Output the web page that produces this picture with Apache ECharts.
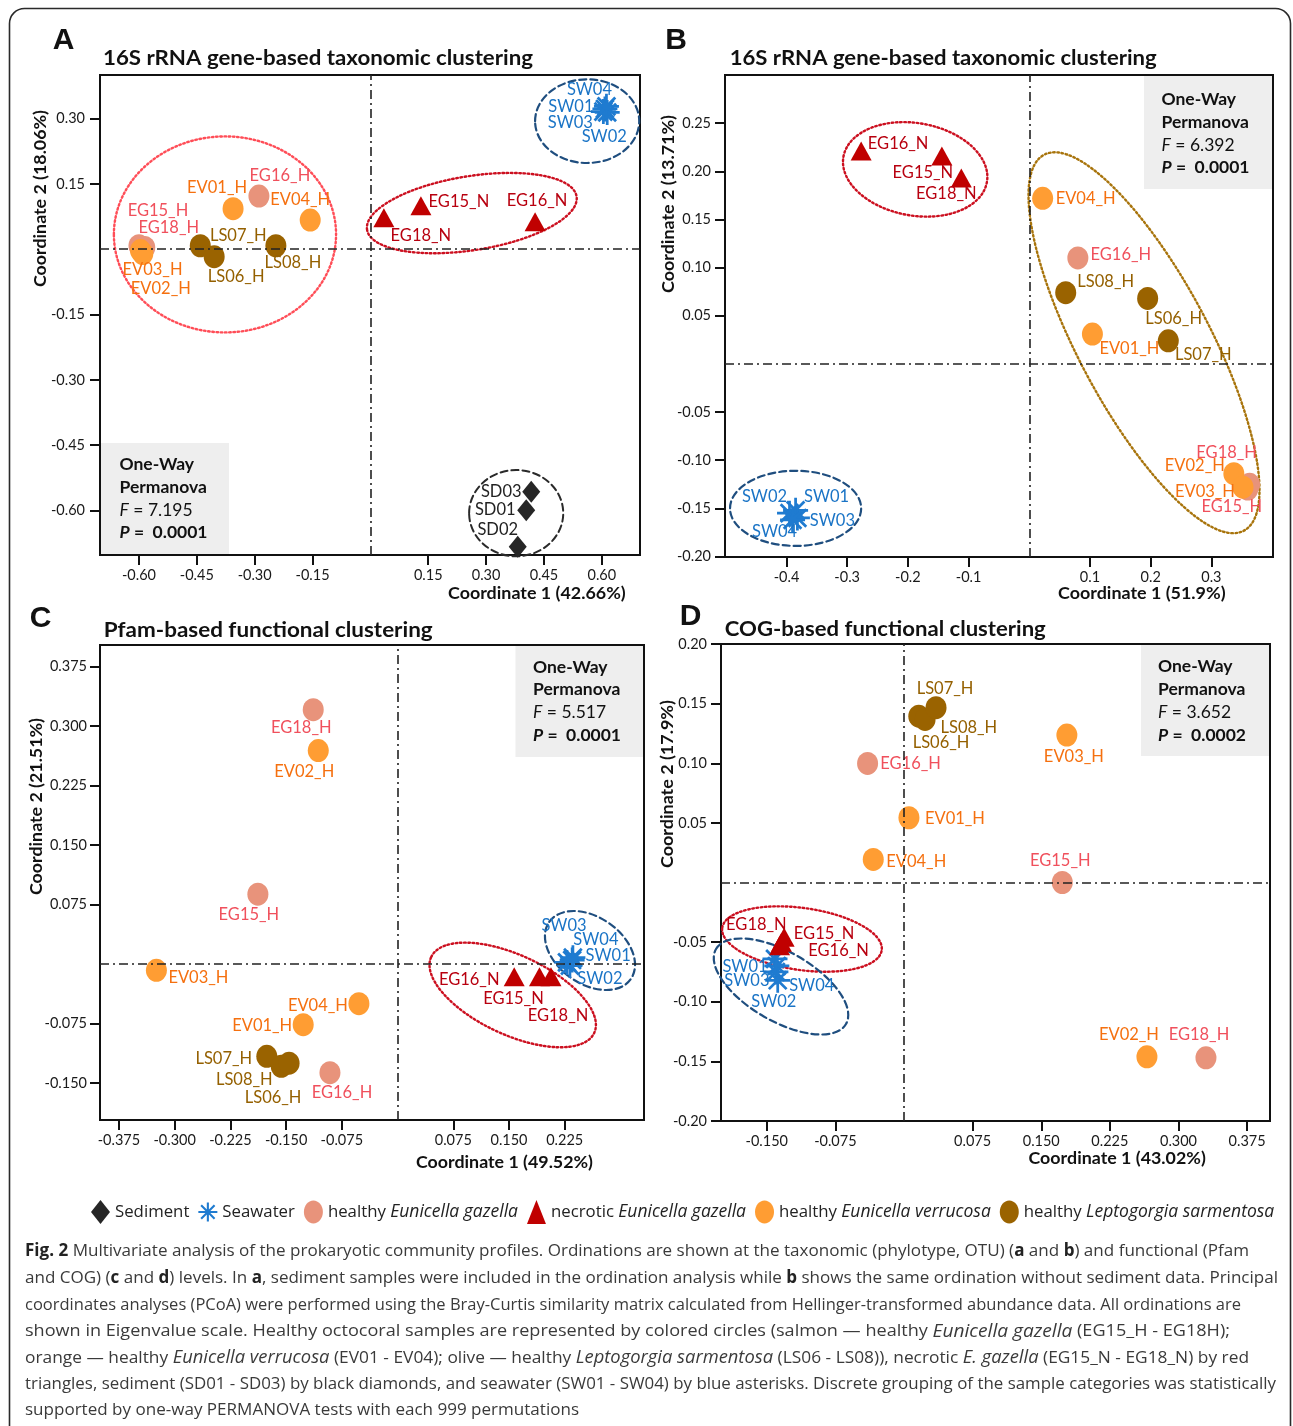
<!DOCTYPE html>
<html>
<head>
<meta charset="utf-8">
<title>Fig. 2 PCoA ordinations</title>
<script src="https://cdn.jsdelivr.net/npm/echarts@6.0.0/dist/echarts.min.js"></script>
<style>
  html, body { margin: 0; padding: 0; background: #fff; }
  #chart { width: 1293px; height: 1426px; }
</style>
</head>
<body>
<div id="chart"></div>
<script>
// sample coordinates: [name, coordinate 1, coordinate 2]
// A - 16S rRNA, with sediment
var aSediment = [["SD01", 0.404, -0.599], ["SD02", 0.382, -0.683], ["SD03", 0.417, -0.557]];
var aSeawater = [["SW01", 0.608, 0.322], ["SW02", 0.614, 0.314], ["SW03", 0.604, 0.316], ["SW04", 0.612, 0.328]];
var aGazellaH = [["EG15_H", -0.600, 0.008], ["EG16_H", -0.289, 0.122], ["EG18_H", -0.585, 0.004]];
var aGazellaN = [["EG15_N", 0.131, 0.100], ["EG16_N", 0.427, 0.063], ["EG18_N", 0.035, 0.072]];
var aVerrucosa = [["EV01_H", -0.356, 0.093], ["EV02_H", -0.590, -0.010], ["EV03_H", -0.596, -0.003], ["EV04_H", -0.156, 0.067]];
var aSarmentosa = [["LS07_H", -0.441, 0.008], ["LS06_H", -0.405, -0.017], ["LS08_H", -0.245, 0.008]];

// B - 16S rRNA, without sediment
var bSeawater = [["SW01", -0.385, -0.152], ["SW02", -0.395, -0.155], ["SW03", -0.382, -0.160], ["SW04", -0.390, -0.162]];
var bGazellaH = [["EG15_H", 0.360, -0.130], ["EG16_H", 0.080, 0.110], ["EG18_H", 0.363, -0.125]];
var bGazellaN = [["EG15_N", -0.144, 0.216], ["EG16_N", -0.277, 0.221], ["EG18_N", -0.112, 0.193]];
var bVerrucosa = [["EV01_H", 0.104, 0.031], ["EV02_H", 0.337, -0.114], ["EV03_H", 0.352, -0.128], ["EV04_H", 0.022, 0.172]];
var bSarmentosa = [["LS06_H", 0.195, 0.068], ["LS07_H", 0.229, 0.024], ["LS08_H", 0.060, 0.074]];

// C - Pfam
var cSeawater = [["SW01", 0.235, 0.005], ["SW02", 0.232, -0.002], ["SW03", 0.228, 0.002], ["SW04", 0.236, 0.008]];
var cGazellaH = [["EG15_H", -0.188, 0.088], ["EG16_H", -0.091, -0.137], ["EG18_H", -0.1135, 0.3205]];
var cGazellaN = [["EG16_N", 0.157, -0.016], ["EG15_N", 0.191, -0.016], ["EG18_N", 0.2065, -0.016]];
var cVerrucosa = [["EV01_H", -0.127, -0.0765], ["EV02_H", -0.1067, 0.269], ["EV03_H", -0.3246, -0.008], ["EV04_H", -0.052, -0.050]];
var cSarmentosa = [["LS07_H", -0.176, -0.1164], ["LS08_H", -0.1565, -0.129], ["LS06_H", -0.146, -0.125]];

// D - COG
var dSeawater = [["SW01", -0.141, -0.064], ["SW02", -0.139, -0.070], ["SW03", -0.140, -0.075], ["SW04", -0.138, -0.082]];
var dGazellaH = [["EG15_H", 0.173, 0.000], ["EG16_H", -0.0398, 0.0998], ["EG18_H", 0.330, -0.147]];
var dGazellaN = [["EG16_N", -0.136, -0.053], ["EG18_N", -0.134, -0.050], ["EG15_N", -0.131, -0.046]];
var dVerrucosa = [["EV01_H", 0.0054, 0.0543], ["EV02_H", 0.2655, -0.1462], ["EV03_H", 0.178, 0.1236], ["EV04_H", -0.0336, 0.0193]];
var dSarmentosa = [["LS08_H", 0.0162, 0.1395], ["LS06_H", 0.023, 0.1367], ["LS07_H", 0.035, 0.1466]];

// grouping ellipses: [centre x, centre y, radius x, radius y, tilt in degrees]
var aEllipses = [[-0.377, 0.034, 0.288, 0.225, 0], [0.263, 0.083, 0.275, 0.085, 9], [0.562, 0.294, 0.135, 0.096, 0], [0.378, -0.606, 0.122, 0.099, 0]];
var aEllipseKinds = ["healthy", "necrotic", "seawater", "sediment"];
var bEllipses = [[-0.188, 0.202, 0.120, 0.048, -10], [0.189, 0.022, 0.108, 0.221, 28], [-0.385, -0.150, 0.108, 0.039, 0]];
var bEllipseKinds = ["necrotic", "host", "seawater"];
var cEllipses = [[0.155, -0.039, 0.121, 0.050, -25], [0.259, 0.017, 0.067, 0.042, -35]];
var cEllipseKinds = ["necrotic", "seawater"];
var dEllipses = [[-0.1115, -0.0474, 0.088, 0.026, -8], [-0.1344, -0.0872, 0.082, 0.029, -30]];
var dEllipseKinds = ["necrotic", "seawater"];

// tick labels
var aXTicks = [-0.6, -0.45, -0.3, -0.15, 0.15, 0.3, 0.45, 0.6];
var aYTicks = [-0.6, -0.45, -0.3, -0.15, 0.15, 0.3];
var bXTicks = [-0.4, -0.3, -0.2, -0.1, 0.1, 0.2, 0.3];
var bYTicks = [-0.2, -0.15, -0.1, -0.05, 0.05, 0.1, 0.15, 0.2, 0.25];
var cXTicks = [-0.375, -0.3, -0.225, -0.15, -0.075, 0.075, 0.15, 0.225];
var cYTicks = [-0.15, -0.075, 0.075, 0.15, 0.225, 0.3, 0.375];
var dXTicks = [-0.15, -0.075, 0.075, 0.15, 0.225, 0.3, 0.375];
var dYTicks = [-0.2, -0.15, -0.1, -0.05, 0.05, 0.1, 0.15, 0.2];

// PERMANOVA results
var permanovaF = ["7.195", "6.392", "5.517", "3.652"];
var permanovaP = ["0.0001", "0.0001", "0.0001", "0.0002"];

var groupNames = ["Sediment", "Seawater", "healthy Eunicella gazella", "necrotic Eunicella gazella",
  "healthy Eunicella verrucosa", "healthy Leptogorgia sarmentosa"];

// ---- styling ----
var asterisk = (function () {
  var d = "";
  for (var k = 0; k < 4; k++) {
    var t = k * Math.PI / 4, c = Math.cos(t), s = Math.sin(t), L = 50, W = 5.5;
    var pts = [[L, W], [L, -W], [-L, -W], [-L, W]].map(function (p) {
      return (50 + p[0] * c - p[1] * s).toFixed(2) + " " + (50 + p[0] * s + p[1] * c).toFixed(2);
    });
    d += "M" + pts.join(" L") + " Z ";
  }
  return "path://" + d;
})();
// tall oval for the legend circles
var oval = "path://M10 0 C15.5 0 20 5.4 20 12 C20 18.6 15.5 24 10 24 C4.5 24 0 18.6 0 12 C0 5.4 4.5 0 10 0 Z";

var groupStyles = [
  { symbol: "diamond", size: [18, 22], color: "#262626", label: "#222222", icon: "diamond" },
  { symbol: asterisk, size: [25, 25], color: "#1f7bd0", label: "#1a74c6", icon: asterisk },
  { symbol: "circle", size: [21, 23], color: "#e8937b", label: "#f0505c", icon: oval },
  { symbol: "triangle", size: [21, 19], color: "#c00000", label: "#b8000f", icon: "triangle" },
  { symbol: "circle", size: [21, 23], color: "#ff9d33", label: "#f5700f", icon: oval },
  { symbol: "circle", size: [21, 23], color: "#9a6300", label: "#946000", icon: oval }
];

var ellipseStyles = {
  healthy: { stroke: "#ff4d57", lineDash: [1.6, 2.6], lineWidth: 2.4 },
  necrotic: { stroke: "#cc1020", lineDash: [1.6, 2.6], lineWidth: 2.4 },
  host: { stroke: "#a8740c", lineDash: [1.6, 2.6], lineWidth: 2.4 },
  seawater: { stroke: "#1f4e7f", lineDash: [7, 4], lineWidth: 2.2 },
  sediment: { stroke: "#2a2a2a", lineDash: [7, 4], lineWidth: 2 }
};

var labelOffsets = {
  A: { SD01: [-31, 0], SD02: [-20, -17], SD03: [-30, 0], SW01: [-34, -2], SW02: [-3, 24], SW03: [-33, 11], SW04: [-17, -17],
    EG15_H: [19, -35], EG16_H: [21, -20], EG18_H: [24, -20], EG15_N: [38, -4], EG16_N: [2, -21], EG18_N: [37, 18],
    EV01_H: [-16, -21], EV02_H: [18, 35], EV03_H: [12, 19], EV04_H: [-10, -20], LS06_H: [22, 20], LS07_H: [38, -10], LS08_H: [17, 17] },
  B: { SW01: [31, -14], SW02: [-25, -17], SW03: [35, 3], SW04: [-18, 12], EG15_H: [-16, 18], EG16_H: [43, -3], EG18_H: [-23, -32],
    EG15_N: [-19, 17], EG16_N: [37, -7], EG18_N: [-15, 16], EV01_H: [37, 15], EV02_H: [-39, -8], EV03_H: [-38, 4], EV04_H: [43, 0],
    LS06_H: [26, 20], LS07_H: [35, 14], LS08_H: [40, -11] },
  C: { SW01: [36, -4], SW02: [30, 13], SW03: [-3, -37], SW04: [23, -18], EG15_H: [-9, 21], EG16_H: [12, 20], EG18_H: [-12, 18],
    EG15_N: [-26, 22], EG16_N: [-45, 3], EG18_N: [7, 39], EV01_H: [-41, 1], EV02_H: [-14, 21], EV03_H: [42, 7], EV04_H: [-41, 2],
    LS06_H: [-16, 34], LS07_H: [-43, 2], LS08_H: [-37, 13] },
  D: { SW01: [-30, 8], SW02: [-3, 36], SW03: [-29, 9], SW04: [34, 5], EG15_H: [-2, -22], EG16_H: [43, 0], EG18_H: [-7, -23],
    EG15_N: [40, -4], EG16_N: [59, 5], EG18_N: [-25, -17], EV01_H: [46, 1], EV02_H: [-18, -22], EV03_H: [7, 22], EV04_H: [43, 2],
    LS06_H: [16, 23], LS07_H: [9, -19], LS08_H: [50, 12] }
};

var panels = [
  { id: "A", grid: [100, 75, 540, 480], x: [-0.701, 0.699], y: [-0.702, 0.400], xTicks: aXTicks, yTicks: aYTicks, xDec: 2, yDec: 2, yMargin: 15,
    groups: [aSediment, aSeawater, aGazellaH, aGazellaN, aVerrucosa, aSarmentosa], ellipses: aEllipses, kinds: aEllipseKinds },
  { id: "B", grid: [725, 75, 548, 482], x: [-0.5013, 0.4015], y: [-0.2005, 0.3], xTicks: bXTicks, yTicks: bYTicks, xDec: 1, yDec: 2, yMargin: 14,
    groups: [null, bSeawater, bGazellaH, bGazellaN, bVerrucosa, bSarmentosa], ellipses: bEllipses, kinds: bEllipseKinds },
  { id: "C", grid: [100, 645, 544, 475], x: [-0.4005, 0.3317], y: [-0.1966, 0.402], xTicks: cXTicks, yTicks: cYTicks, xDec: 3, yDec: 3, yMargin: 13,
    groups: [null, cSeawater, cGazellaH, cGazellaN, cVerrucosa, cSarmentosa], ellipses: cEllipses, kinds: cEllipseKinds },
  { id: "D", grid: [721, 644, 549, 477], x: [-0.2, 0.4], y: [-0.2, 0.2], xTicks: dXTicks, yTicks: dYTicks, xDec: 3, yDec: 2, yMargin: 14,
    groups: [null, dSeawater, dGazellaH, dGazellaN, dVerrucosa, dSarmentosa], ellipses: dEllipses, kinds: dEllipseKinds }
];

// ---- text helpers (width fitting with canvas measureText) ----
var ctx2d = document.createElement("canvas").getContext("2d");
function measure(str, base, rich) {
  var w = 0, re = /\{(\w+)\|([^}]*)\}/g, last = 0, m;
  function add(s, st) {
    if (!s) return;
    ctx2d.font = (st.fontStyle || "normal") + " " + (st.fontWeight || "normal") + " " + st.fontSize + "px \"" + st.fontFamily + "\"";
    w += ctx2d.measureText(s).width;
  }
  while ((m = re.exec(str))) {
    add(str.slice(last, m.index), base);
    add(m[2], rich[m[1]]);
    last = re.lastIndex;
  }
  add(str.slice(last), base);
  return w;
}
function txt(o) {
  var base = { fontFamily: o.family || "Lato", fontSize: o.size, fontWeight: o.weight || "normal", fontStyle: o.italic ? "italic" : "normal" };
  var rich = {};
  Object.keys(o.rich || {}).forEach(function (k) {
    rich[k] = Object.assign({}, base, { fill: o.color || "#111" }, o.rich[k]);
  });
  var sx = o.scale || (o.width ? o.width / measure(o.text, base, rich) : 1);
  return {
    type: "text", x: o.x, y: o.y, rotation: o.rotation || 0, scaleX: sx, silent: true, z: 10,
    style: Object.assign({ text: o.text, fill: o.color || "#111", align: o.align || "left", verticalAlign: "middle", rich: rich }, base)
  };
}

// ---- build option ----
var grids = [], xAxes = [], yAxes = [], series = [];
panels.forEach(function (p, i) {
  grids.push({ left: p.grid[0], top: p.grid[1], width: p.grid[2], height: p.grid[3], show: true,
    borderColor: "#111", borderWidth: 2, backgroundColor: "transparent", outerBoundsMode: "none", containLabel: false });
  function axis(ticks, dec, range, isX) {
    return {
      type: "value", gridIndex: i, min: range[0], max: range[1],
      axisLine: { show: true, onZero: false, lineStyle: { color: "#111", width: 2 } },
      axisTick: { show: true, customValues: ticks, length: 10, inside: false, lineStyle: { color: "#111", width: 2 } },
      axisLabel: { show: true, customValues: ticks, margin: isX ? 13 : p.yMargin, fontFamily: "Lato", fontSize: 14.5, color: "#1a1a1a",
        formatter: function (v) { return v.toFixed(dec); } },
      splitLine: { show: false }
    };
  }
  xAxes.push(axis(p.xTicks, p.xDec, p.x, true));
  yAxes.push(axis(p.yTicks, p.yDec, p.y, false));

  series.push({
    type: "custom", name: "ellipses" + p.id, xAxisIndex: i, yAxisIndex: i, silent: true, z: 1, clip: false,
    data: p.ellipses, encode: { x: 0, y: 1 },
    renderItem: function (params, api) {
      var c = api.coord([api.value(0), api.value(1)]);
      var s = api.size([api.value(2), api.value(3)]);
      var st = ellipseStyles[p.kinds[params.dataIndex]];
      return {
        type: "ellipse", x: c[0], y: c[1], rotation: api.value(4) * Math.PI / 180,
        shape: { cx: 0, cy: 0, rx: s[0], ry: s[1] },
        style: { fill: "none", stroke: st.stroke, lineWidth: st.lineWidth, lineDash: st.lineDash, lineCap: "round" }
      };
    }
  });

  p.groups.forEach(function (rows, g) {
    if (!rows) return;
    var gs = groupStyles[g];
    var s = {
      type: "scatter", name: groupNames[g], xAxisIndex: i, yAxisIndex: i, silent: true, z: 3,
      symbol: gs.symbol, symbolSize: gs.size, itemStyle: { color: gs.color, opacity: 1 },
      label: { show: true, position: "inside", formatter: "{b}", color: gs.label, fontFamily: "Lato", fontSize: 16.5,
        align: "center", verticalAlign: "middle" },
      emphasis: { disabled: true },
      data: rows.map(function (r) {
        return { name: r[0], value: [r[1], r[2]], label: { offset: labelOffsets[p.id][r[0]] || [0, 0] } };
      })
    };
    if (g === 1) {
      s.markLine = {
        silent: true, symbol: ["none", "none"], label: { show: false }, animation: false,
        lineStyle: { color: "#222", width: 1.6, type: [9, 4, 2, 4] },
        emphasis: { disabled: true },
        data: [{ xAxis: 0 }, { yAxis: 0 }]
      };
    }
    series.push(s);
  });
});

// titles, axis names, statistics boxes, caption
var graphics = [];
graphics.push({ type: "rect", shape: { x: 9.5, y: 8.5, width: 1281, height: 1480, r: 15 }, style: { fill: "none", stroke: "#2a2a2a", lineWidth: 1.6 }, silent: true, z: 0 });

var letters = [["A", 63.5, 41], ["B", 676, 41], ["C", 40.5, 619], ["D", 690.5, 617]];
letters.forEach(function (l) {
  graphics.push(txt({ text: l[0], x: l[1], y: l[2], size: 30, weight: "bold", family: "Liberation Sans", align: "center", color: "#111" }));
});
var titles = [["16S rRNA gene-based taxonomic clustering", 103, 58, 430], ["16S rRNA gene-based taxonomic clustering", 729.7, 58, 427],
  ["Pfam-based functional clustering", 103.7, 630.5, 329], ["COG-based functional clustering", 724.8, 629, 321]];
titles.forEach(function (t) {
  graphics.push(txt({ text: t[0], x: t[1], y: t[2], size: 21, weight: "bold", width: t[3], color: "#111" }));
});
var yNames = [["Coordinate 2 (18.06%)", 40.5, 198.5, 177], ["Coordinate 2 (13.71%)", 669, 204, 178],
  ["Coordinate 2 (21.51%)", 36.3, 806.5, 177], ["Coordinate 2 (17.9%)", 667.7, 784, 168]];
yNames.forEach(function (t) {
  graphics.push(txt({ text: t[0], x: t[1], y: t[2], size: 17, weight: "bold", width: t[3], align: "center", rotation: Math.PI / 2, color: "#111" }));
});
var xNames = [["Coordinate 1 (42.66%)", 448, 594, 177.7], ["Coordinate 1 (51.9%)", 1058, 594, 167.6],
  ["Coordinate 1 (49.52%)", 416, 1163, 177], ["Coordinate 1 (43.02%)", 1028.5, 1159, 177.3]];
xNames.forEach(function (t) {
  graphics.push(txt({ text: t[0], x: t[1], y: t[2], size: 17, weight: "bold", width: t[3], color: "#111" }));
});

var boxes = [[101, 443, 128, 111, 119.5, [464, 487, 510, 532.5]], [1144, 76, 128, 113, 1161.5, [99, 122.5, 145, 167.5]],
  [515.5, 646, 127.5, 111, 533, [667.5, 689.5, 712.5, 735]], [1141, 645, 128, 111, 1158, [666, 689, 712, 735]]];
boxes.forEach(function (b, i) {
  graphics.push({ type: "rect", shape: { x: b[0], y: b[1], width: b[2], height: b[3] }, style: { fill: "#eeeeee" }, silent: true, z: 0 });
  graphics.push(txt({ text: "One-Way", x: b[4], y: b[5][0], size: 17.5, weight: "bold", color: "#111" }));
  graphics.push(txt({ text: "Permanova", x: b[4], y: b[5][1], size: 17.5, weight: "bold", color: "#111" }));
  graphics.push(txt({ text: "{fi|F} = " + permanovaF[i], x: b[4], y: b[5][2], size: 17.5, color: "#111", rich: { fi: { fontStyle: "italic" } } }));
  graphics.push(txt({ text: "{pi|P} =  " + permanovaP[i], x: b[4], y: b[5][3], size: 17.5, weight: "bold", color: "#111", rich: { pi: { fontStyle: "italic" } } }));
});

var captionLines = [
  "{b|Fig. 2} Multivariate analysis of the prokaryotic community profiles. Ordinations are shown at the taxonomic (phylotype, OTU) ({b|a} and {b|b}) and functional (Pfam",
  "and COG) ({b|c} and {b|d}) levels. In {b|a}, sediment samples were included in the ordination analysis while {b|b} shows the same ordination without sediment data. Principal",
  "coordinates analyses (PCoA) were performed using the Bray-Curtis similarity matrix calculated from Hellinger-transformed abundance data. All ordinations are",
  "shown in Eigenvalue scale. Healthy octocoral samples are represented by colored circles (salmon \u2014 healthy {i|Eunicella gazella} (EG15_H - EG18H);",
  "orange \u2014 healthy {i|Eunicella verrucosa} (EV01 - EV04); olive \u2014 healthy {i|Leptogorgia sarmentosa} (LS06 - LS08)), necrotic {i|E. gazella} (EG15_N - EG18_N) by red",
  "triangles, sediment (SD01 - SD03) by black diamonds, and seawater (SW01 - SW04) by blue asterisks. Discrete grouping of the sample categories was statistically",
  "supported by one-way PERMANOVA tests with each 999 permutations"
];
var captionY = [1251.5, 1278.5, 1305, 1331.5, 1358, 1384.5, 1410.5];
var captionEnd = [1249, 1278, 1241, 1230, 1249, 1276, 579];
var capRich = { b: { fontWeight: "bold", fill: "#222" }, i: { fontStyle: "italic", fontSize: 18 } };
captionLines.forEach(function (line, k) {
  graphics.push(txt({ text: line, x: 25, y: captionY[k], size: 17, family: "Open Sans", color: "#3a3a3a", width: captionEnd[k] - 25, rich: capRich }));
});

var chartDom = document.getElementById("chart");
var myChart = echarts.init(chartDom, null, { renderer: "canvas" });
var option = {
  animation: false,
  backgroundColor: "#ffffff",
  textStyle: { fontFamily: "Lato" },
  grid: grids,
  xAxis: xAxes,
  yAxis: yAxes,
  legend: {
    left: 91, top: 1200, width: 1200, padding: 0, orient: "horizontal", itemWidth: 19, itemHeight: 24, itemGap: 9, selectedMode: false,
    data: groupNames.map(function (n, g) { return { name: n, icon: groupStyles[g].icon }; }),
    textStyle: { fontFamily: "Open Sans", fontSize: 16.8, color: "#222",
      rich: { i: { fontFamily: "Open Sans", fontSize: 17.5, fontStyle: "italic", color: "#222" } } },
    formatter: function (name) { return name.replace(/((Eunicella|Leptogorgia) \w+)/, "{i|$1}"); }
  },
  graphic: graphics,
  series: series
};
myChart.setOption(option);
</script>
</body>
</html>
